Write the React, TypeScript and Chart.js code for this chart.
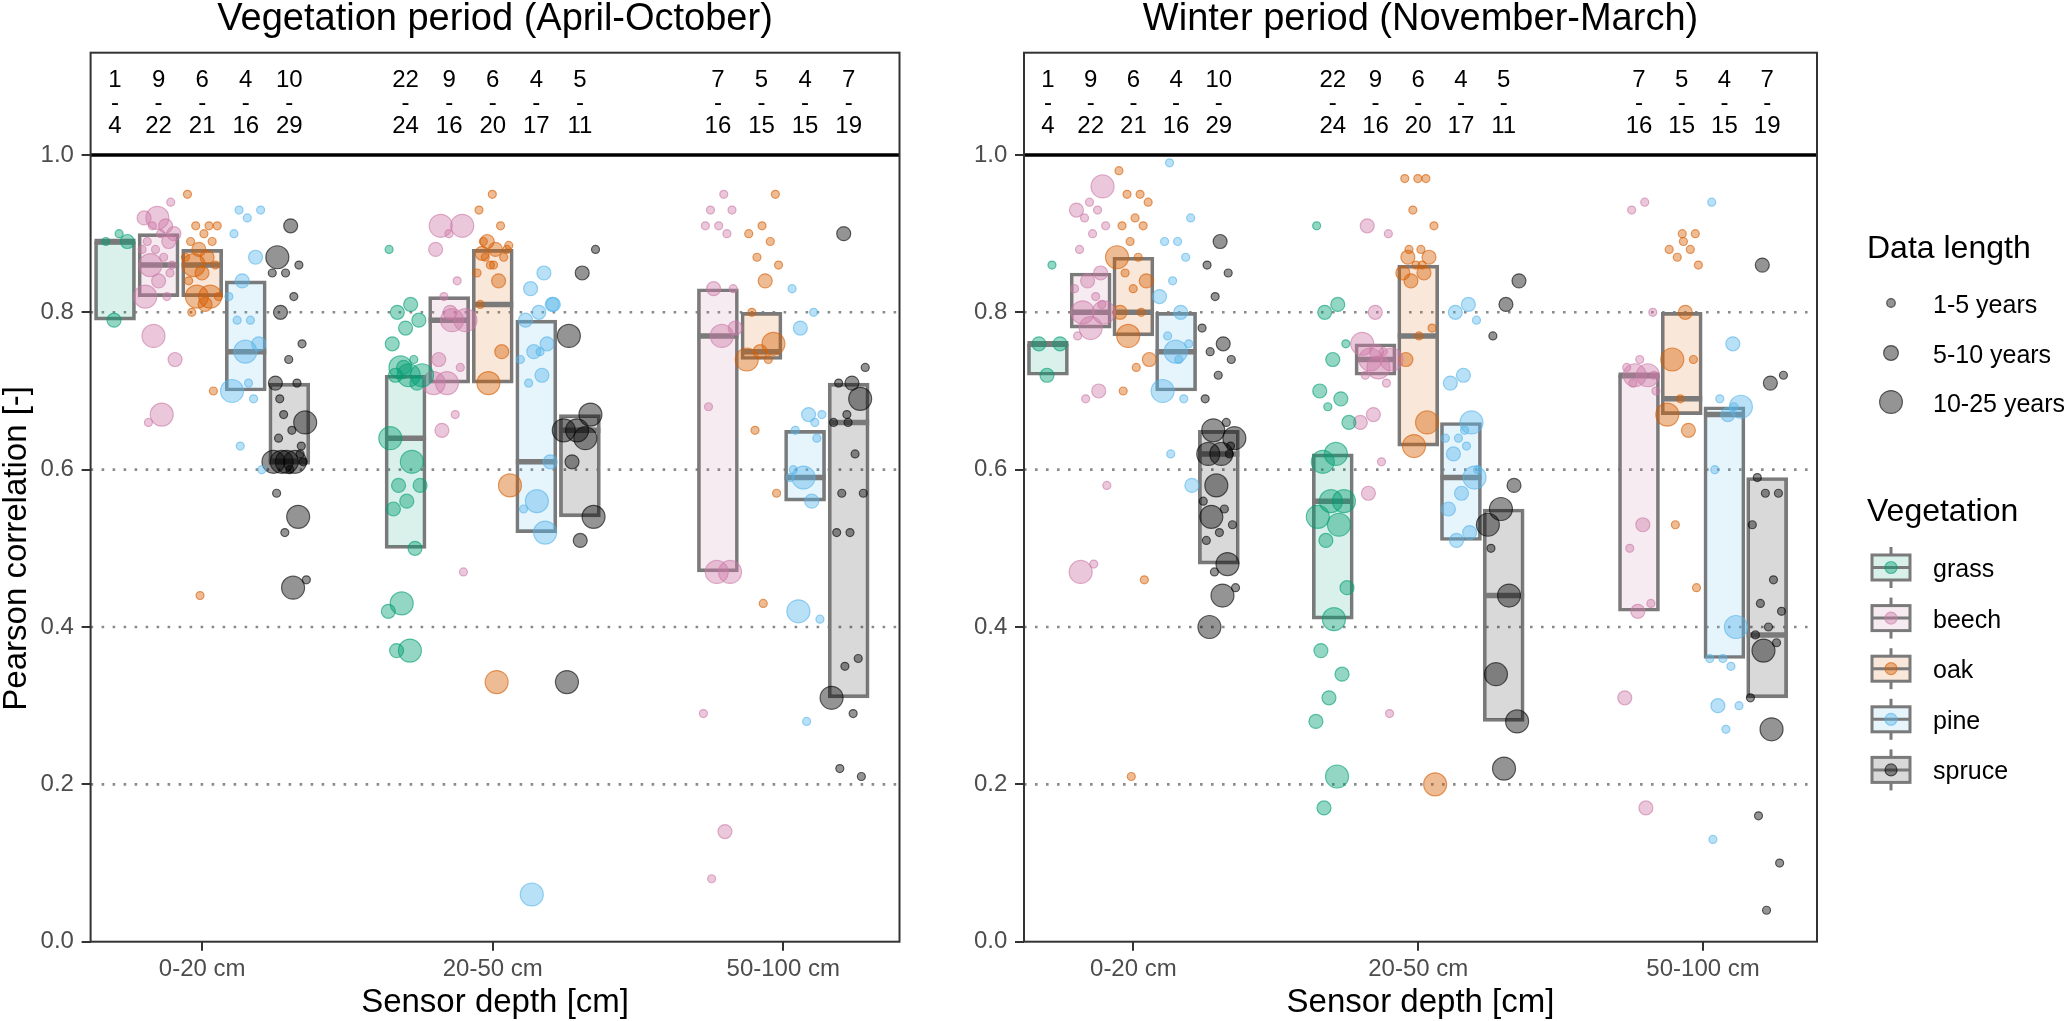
import React, { useEffect, useRef } from "react";
import { Chart, registerables } from "chart.js";
Chart.register(...registerables);

const FONT = '"Liberation Sans", Arial, Helvetica, sans-serif';

// ---------------- data ----------------
const depths = ["0-20 cm", "20-50 cm", "50-100 cm"];
const vegetation = ["grass", "beech", "oak", "pine", "spruce"];
const vegColors = ["#009E73", "#CC79A7", "#D55E00", "#56B4E9", "#000000"];
const sizeLabels = ["1-5 years", "5-10 years", "10-25 years"];
const yTicks = [0, 0.2, 0.4, 0.6, 0.8, 1.0];
const panelTitles = ["Vegetation period (April-October)", "Winter period (November-March)"];

// number of sites (top) and sensors (bottom) per depth x vegetation
const nSites = [[1, 9, 6, 4, 10], [22, 9, 6, 4, 5], [null, 7, 5, 4, 7]];
const nSensors = [[4, 22, 21, 16, 29], [24, 16, 20, 17, 11], [null, 16, 15, 15, 19]];

// box statistics [depth][vegetation]
const vegQ1 = [[0.79, 0.82, 0.82, 0.70, 0.61], [0.50, 0.71, 0.71, 0.52, 0.54], [null, 0.47, 0.74, 0.56, 0.31]];
const vegMed = [[0.89, 0.86, 0.86, 0.75, 0.61], [0.64, 0.79, 0.81, 0.61, 0.65], [null, 0.77, 0.75, 0.59, 0.66]];
const vegQ3 = [[0.89, 0.90, 0.88, 0.84, 0.71], [0.72, 0.82, 0.88, 0.79, 0.67], [null, 0.83, 0.80, 0.65, 0.71]];
const winQ1 = [[0.72, 0.78, 0.77, 0.70, 0.48], [0.41, 0.72, 0.63, 0.51, 0.28], [null, 0.42, 0.67, 0.36, 0.31]];
const winMed = [[0.76, 0.80, 0.80, 0.75, 0.62], [0.56, 0.74, 0.77, 0.59, 0.44], [null, 0.72, 0.69, 0.67, 0.39]];
const winQ3 = [[0.76, 0.85, 0.87, 0.80, 0.65], [0.62, 0.76, 0.86, 0.66, 0.55], [null, 0.72, 0.80, 0.68, 0.59]];

// points: [correlation, data length class (1: 1-5, 2: 5-10, 3: 10-25 years)] per depth
const vegGrass = [
  [[.90, 1], [.89, 1], [.89, 2], [.79, 2]],
  [[.88, 1], [.81, 2], [.80, 2], [.79, 2], [.78, 2], [.76, 2], [.74, 1], [.73, 3], [.72, 3], [.72, 3], [.72, 2], [.71, 2], [.73, 2], [.64, 3], [.61, 3], [.58, 2], [.58, 2], [.56, 2], [.55, 2], [.50, 2], [.43, 3], [.42, 2], [.37, 3], [.37, 2]],
  [],
];
const vegBeech = [
  [[.94, 1], [.92, 3], [.92, 2], [.91, 2], [.91, 1], [.90, 2], [.90, 1], [.89, 1], [.89, 2], [.88, 1], [.88, 1], [.87, 1], [.86, 3], [.86, 1], [.84, 2], [.82, 3], [.82, 1], [.77, 3], [.74, 2], [.67, 3], [.66, 1], [.85, 1]],
  [[.91, 3], [.91, 3], [.90, 1], [.88, 2], [.84, 1], [.82, 1], [.79, 3], [.79, 3], [.74, 2], [.73, 1], [.71, 3], [.71, 3], [.67, 1], [.65, 2], [.47, 1], [.80, 2]],
  [[.95, 1], [.93, 1], [.93, 1], [.91, 1], [.91, 1], [.90, 1], [.83, 2], [.78, 2], [.77, 3], [.68, 1], [.47, 3], [.47, 3], [.29, 1], [.14, 2], [.08, 1], [.83, 1]],
];
const vegOak = [
  [[.95, 1], [.91, 1], [.91, 1], [.91, 1], [.90, 1], [.89, 1], [.89, 1], [.88, 2], [.87, 1], [.87, 2], [.86, 3], [.86, 1], [.85, 2], [.84, 1], [.82, 3], [.82, 3], [.82, 1], [.81, 2], [.80, 1], [.70, 1], [.44, 1]],
  [[.95, 1], [.93, 1], [.91, 1], [.89, 2], [.885, 1], [.88, 2], [.875, 2], [.87, 1], [.86, 1], [.85, 1], [.84, 2], [.87, 1], [.88, 1], [.86, 1], [.81, 1], [.75, 2], [.71, 3], [.58, 3], [.33, 3], [.89, 1]],
  [[.95, 1], [.91, 1], [.90, 1], [.89, 1], [.87, 1], [.86, 1], [.84, 2], [.80, 1], [.76, 3], [.75, 2], [.74, 3], [.74, 1], [.65, 1], [.57, 1], [.43, 1]],
];
const vegPine = [
  [[.93, 1], [.93, 1], [.92, 1], [.90, 1], [.87, 2], [.84, 2], [.82, 1], [.79, 1], [.79, 1], [.76, 2], [.75, 3], [.70, 3], [.69, 1], [.63, 1], [.60, 1], [.71, 1]],
  [[.85, 2], [.83, 2], [.81, 2], [.80, 2], [.79, 2], [.76, 2], [.75, 2], [.74, 1], [.72, 2], [.71, 1], [.61, 2], [.56, 3], [.55, 1], [.52, 3], [.06, 3], [.81, 2], [.75, 1]],
  [[.83, 1], [.80, 1], [.78, 2], [.67, 1], [.67, 2], [.65, 1], [.64, 1], [.59, 3], [.59, 1], [.56, 2], [.42, 3], [.41, 1], [.28, 1], [.60, 1], [.66, 1]],
];
const vegSpruce = [
  [[.91, 2], [.87, 3], [.86, 1], [.85, 1], [.85, 1], [.82, 1], [.80, 2], [.76, 1], [.74, 1], [.71, 2], [.71, 1], [.67, 1], [.66, 3], [.65, 1], [.64, 1], [.62, 1], [.61, 3], [.61, 3], [.61, 3], [.61, 3], [.61, 1], [.60, 1], [.57, 1], [.54, 3], [.52, 1], [.46, 1], [.45, 3], [.69, 1], [.63, 1]],
  [[.88, 1], [.85, 2], [.77, 3], [.67, 3], [.65, 3], [.65, 3], [.64, 3], [.61, 2], [.54, 3], [.51, 2], [.33, 3]],
  [[.90, 2], [.73, 1], [.71, 2], [.71, 1], [.69, 3], [.67, 1], [.66, 1], [.62, 1], [.57, 1], [.57, 1], [.52, 1], [.52, 1], [.36, 1], [.35, 1], [.31, 3], [.29, 1], [.22, 1], [.21, 1], [.66, 1]],
];

const winGrass = [
  [[.86, 1], [.76, 2], [.76, 2], [.72, 2]],
  [[.91, 1], [.81, 2], [.80, 2], [.76, 1], [.74, 2], [.70, 2], [.69, 2], [.68, 1], [.66, 2], [.62, 3], [.61, 3], [.56, 3], [.56, 3], [.54, 3], [.53, 3], [.51, 2], [.45, 2], [.41, 3], [.37, 2], [.34, 2], [.31, 2], [.28, 2], [.21, 3], [.17, 2]],
  [],
];
const winBeech = [
  [[.96, 3], [.94, 1], [.93, 2], [.93, 1], [.92, 1], [.91, 1], [.90, 1], [.88, 1], [.85, 2], [.84, 2], [.83, 1], [.82, 1], [.80, 3], [.80, 3], [.78, 3], [.77, 1], [.70, 2], [.69, 1], [.58, 1], [.48, 1], [.47, 3], [.81, 1]],
  [[.91, 2], [.90, 1], [.80, 2], [.76, 3], [.75, 1], [.74, 3], [.74, 3], [.73, 3], [.72, 1], [.71, 1], [.67, 2], [.66, 2], [.61, 1], [.57, 2], [.29, 1], [.75, 2]],
  [[.94, 1], [.93, 1], [.80, 1], [.74, 1], [.73, 1], [.72, 3], [.72, 3], [.70, 1], [.53, 2], [.50, 1], [.43, 1], [.42, 2], [.31, 2], [.17, 2], [.71, 1], [.72, 1]],
];
const winOak = [
  [[.98, 1], [.95, 1], [.95, 1], [.94, 1], [.92, 1], [.91, 1], [.91, 1], [.89, 1], [.87, 3], [.87, 1], [.85, 1], [.84, 2], [.83, 1], [.80, 2], [.80, 1], [.77, 3], [.74, 2], [.73, 1], [.70, 1], [.46, 1], [.21, 1]],
  [[.97, 1], [.97, 1], [.97, 1], [.93, 1], [.91, 1], [.88, 1], [.87, 2], [.87, 2], [.86, 1], [.85, 2], [.85, 2], [.84, 2], [.78, 1], [.77, 1], [.74, 2], [.66, 3], [.63, 3], [.20, 3], [.86, 1], [.88, 1]],
  [[.90, 1], [.90, 1], [.88, 1], [.88, 1], [.87, 1], [.86, 1], [.80, 2], [.74, 3], [.74, 1], [.69, 1], [.67, 3], [.65, 2], [.53, 1], [.45, 1], [.89, 1]],
];
const winPine = [
  [[.99, 1], [.92, 1], [.89, 1], [.89, 1], [.87, 1], [.84, 1], [.82, 2], [.80, 2], [.77, 1], [.76, 1], [.75, 3], [.70, 3], [.69, 1], [.62, 1], [.58, 2], [.74, 1]],
  [[.81, 2], [.80, 2], [.79, 1], [.72, 2], [.71, 2], [.66, 3], [.64, 1], [.64, 1], [.63, 1], [.62, 2], [.59, 3], [.57, 2], [.55, 2], [.52, 2], [.51, 2], [.60, 1], [.65, 1]],
  [[.94, 1], [.76, 2], [.69, 1], [.68, 3], [.67, 2], [.60, 1], [.40, 3], [.36, 1], [.36, 1], [.35, 1], [.30, 2], [.30, 1], [.27, 1], [.13, 1], [.68, 1]],
];
const winSpruce = [
  [[.89, 2], [.86, 1], [.85, 1], [.82, 1], [.78, 1], [.76, 2], [.75, 1], [.74, 1], [.72, 1], [.69, 1], [.66, 1], [.65, 3], [.64, 3], [.62, 3], [.62, 3], [.62, 1], [.58, 3], [.56, 1], [.55, 1], [.54, 3], [.53, 1], [.52, 1], [.51, 1], [.48, 3], [.47, 1], [.45, 1], [.44, 3], [.40, 3], [.63, 1]],
  [[.84, 2], [.81, 2], [.77, 1], [.58, 2], [.55, 3], [.53, 3], [.44, 3], [.34, 3], [.28, 3], [.22, 3], [.50, 1]],
  [[.86, 2], [.72, 1], [.71, 2], [.59, 1], [.57, 1], [.57, 1], [.53, 1], [.46, 1], [.43, 1], [.42, 1], [.40, 1], [.39, 1], [.38, 1], [.37, 3], [.31, 1], [.27, 3], [.16, 1], [.10, 1], [.04, 1]],
];

// ---------------- styling ----------------
const BOX_GREY = "#7A7A7A";
const POINT_R = [0, 4, 7, 11.5];
const LEGEND_R = [4.3, 7.4, 11.4];
const DODGE = 0.15;

const panels = [
  { title: panelTitles[0], q1: vegQ1, med: vegMed, q3: vegQ3, pts: [vegGrass, vegBeech, vegOak, vegPine, vegSpruce], yTitle: true, axisW: 90.6 },
  { title: panelTitles[1], q1: winQ1, med: winMed, q3: winQ3, pts: [winGrass, winBeech, winOak, winPine, winSpruce], yTitle: false, axisW: 64 },
];

function rgba(hex: string, a: number) {
  const n = parseInt(hex.slice(1), 16);
  return `rgba(${(n >> 16) & 255},${(n >> 8) & 255},${n & 255},${a})`;
}

function xPos(d: number, v: number) {
  const present = vegetation.map((_, k) => (nSensors[d][k] != null ? k : -1)).filter((k) => k >= 0);
  const slot = present.indexOf(v);
  return d + (slot - (present.length - 1) / 2) * DODGE;
}

// deterministic horizontal spread of points inside a box (position only, not values)
function jitter(i: number, v: number, d: number) {
  const f = ((i + 1) * 0.6180339887 + v * 0.23 + d * 0.41) % 1;
  return (f - 0.5) * 0.12;
}

function makeConfig(p: number): any {
  const panel = panels[p];
  const datasets: any[] = [];
  vegetation.forEach((_, v) => {
    const col = vegColors[v];
    const boxes: any[] = [];
    const meds: any[] = [];
    const pts: any[] = [];
    for (let d = 0; d < depths.length; d++) {
      if (panel.q1[d][v] == null) continue;
      const x = xPos(d, v);
      boxes.push({ x, y: [panel.q1[d][v], panel.q3[d][v]] });
      meds.push({ x, y: panel.med[d][v] });
      panel.pts[v][d].forEach((pt: number[], i: number) => pts.push({ x: x + jitter(i, v, d), y: pt[0], s: pt[1] }));
    }
    datasets.push({
      type: "bar", data: boxes, backgroundColor: rgba(col, 0.15), borderColor: BOX_GREY,
      borderWidth: 3, borderSkipped: false, barThickness: 41, grouped: false, order: 3,
    });
    datasets.push({
      type: "scatter", data: meds, pointStyle: "line", pointRadius: 20.5, pointBorderWidth: 5.5,
      pointBorderColor: BOX_GREY, pointBackgroundColor: BOX_GREY, order: 2,
    });
    datasets.push({
      type: "scatter", data: pts,
      pointRadius: (c: any) => POINT_R[(c.raw && c.raw.s) || 1],
      pointBackgroundColor: rgba(col, 0.42), pointBorderColor: rgba(col, 0.6), pointBorderWidth: 1.2, order: 1,
    });
  });

  const tickFont = { family: FONT, size: 24 };
  const decor = {
    id: "decor" + p,
    beforeDatasetsDraw(chart: any) {
      const { ctx, chartArea: a, scales } = chart;
      const y = scales.y;
      ctx.save();
      ctx.strokeStyle = "#8A8A8A";
      ctx.lineWidth = 2.6;
      ctx.setLineDash([2.6, 8.4]);
      [0.2, 0.4, 0.6, 0.8].forEach((val) => {
        const py = y.getPixelForValue(val);
        ctx.beginPath(); ctx.moveTo(a.left, py); ctx.lineTo(a.right, py); ctx.stroke();
      });
      ctx.setLineDash([]);
      ctx.strokeStyle = "#000";
      ctx.lineWidth = 3.4;
      const p1 = y.getPixelForValue(1);
      ctx.beginPath(); ctx.moveTo(a.left, p1); ctx.lineTo(a.right, p1); ctx.stroke();
      ctx.restore();
    },
    afterDraw(chart: any) {
      const { ctx, chartArea: a, scales } = chart;
      const x = scales.x;
      const y = scales.y;
      ctx.save();
      ctx.strokeStyle = "#333333";
      ctx.lineWidth = 2;
      ctx.strokeRect(a.left, a.top, a.right - a.left, a.bottom - a.top);
      ctx.fillStyle = "#000";
      ctx.textAlign = "center";
      ctx.textBaseline = "alphabetic";
      ctx.font = `24px ${FONT}`;
      for (let d = 0; d < depths.length; d++) {
        for (let v = 0; v < vegetation.length; v++) {
          if (nSites[d][v] == null) continue;
          const px = x.getPixelForValue(xPos(d, v));
          ctx.fillText(String(nSites[d][v]), px, a.top + 34.5);
          ctx.fillText("-", px, a.top + 57.5);
          ctx.fillText(String(nSensors[d][v]), px, a.top + 80.5);
        }
      }
      ctx.font = `38px ${FONT}`;
      ctx.fillText(panel.title, (a.left + a.right) / 2, 30);
      if (panel.yTitle) {
        ctx.font = `33px ${FONT}`;
        ctx.translate(16.5, y.getPixelForValue(0.5));
        ctx.rotate(-Math.PI / 2);
        ctx.textBaseline = "middle";
        ctx.fillText("Pearson correlation [-]", 0, 0);
      }
      ctx.restore();
    },
  };

  return {
    type: "bar",
    data: { datasets },
    plugins: [decor],
    options: {
      animation: false,
      responsive: false,
      events: [],
      layout: { padding: { left: 0, right: p === 0 ? 60.5 : 10, top: 52.7, bottom: 0 } },
      plugins: { legend: { display: false }, tooltip: { enabled: false }, title: { display: false } },
      scales: {
        x: {
          type: "linear", min: -0.384, max: 2.4, offset: false,
          afterBuildTicks: (s: any) => { s.ticks = depths.map((_, i) => ({ value: i })); },
          afterFit: (s: any) => { s.height = 79.3; },
          ticks: {
            callback: (val: any) => depths[val] ?? "", font: tickFont, color: "#4D4D4D",
            padding: 4, maxRotation: 0, autoSkip: false,
          },
          grid: { offset: false, drawOnChartArea: false, drawTicks: true, tickLength: 9, color: "#333333", lineWidth: 2 },
          border: { display: false },
          title: {
            display: true, text: "Sensor depth [cm]", color: "#000",
            font: { family: FONT, size: 33, lineHeight: 1 }, padding: { top: 0, bottom: 1.5 },
          },
        },
        y: {
          type: "linear", min: 0, max: 1.13,
          afterBuildTicks: (s: any) => { s.ticks = yTicks.map((value) => ({ value })); },
          afterFit: (s: any) => { s.width = panel.axisW; },
          ticks: { callback: (val: any) => Number(val).toFixed(1), font: tickFont, color: "#4D4D4D", padding: 7.7 },
          grid: { drawOnChartArea: false, drawTicks: true, tickLength: 9, color: "#333333", lineWidth: 2 },
          border: { display: false },
          title: { display: false },
        },
      },
    },
  };
}

export default function App() {
  const leftRef = useRef<HTMLCanvasElement>(null);
  const rightRef = useRef<HTMLCanvasElement>(null);

  useEffect(() => {
    document.body.style.margin = "0";
    const c1 = new Chart(leftRef.current as HTMLCanvasElement, makeConfig(0));
    const c2 = new Chart(rightRef.current as HTMLCanvasElement, makeConfig(1));
    return () => {
      c1.destroy();
      c2.destroy();
    };
  }, []);

  const sizeRowY = [303, 353, 402];
  const vegRowY = vegetation.map((_, i) => 567.5 + 50.6 * i);

  return (
    <div style={{ position: "relative", width: 2067, height: 1021, background: "#fff", overflow: "hidden" }}>
      <canvas ref={leftRef} width={960} height={1021}
        style={{ position: "absolute", left: 0, top: 0, width: 960, height: 1021 }} />
      <canvas ref={rightRef} width={883} height={1021}
        style={{ position: "absolute", left: 960, top: 0, width: 883, height: 1021 }} />
      <svg width={2067} height={1021} style={{ position: "absolute", left: 0, top: 0, pointerEvents: "none" }}
        fontFamily={FONT}>
        <text x={1867} y={257.5} fontSize={32} fill="#000">Data length</text>
        {sizeLabels.map((lab, i) => (
          <g key={lab}>
            <circle cx={1891} cy={sizeRowY[i]} r={LEGEND_R[i]} fill="rgba(0,0,0,0.42)" stroke="rgba(0,0,0,0.6)" strokeWidth={1.2} />
            <text x={1933} y={sizeRowY[i] + 9.5} fontSize={25} fill="#000">{lab}</text>
          </g>
        ))}
        <text x={1867} y={521} fontSize={32} fill="#000">Vegetation</text>
        {vegetation.map((veg, i) => {
          const cy = vegRowY[i];
          const col = vegColors[i];
          return (
            <g key={veg}>
              <line x1={1891} x2={1891} y1={cy - 20.5} y2={cy - 12.5} stroke={BOX_GREY} strokeWidth={3} />
              <line x1={1891} x2={1891} y1={cy + 12.5} y2={cy + 20.5} stroke={BOX_GREY} strokeWidth={3} />
              <rect x={1872} y={cy - 12.5} width={38} height={25} fill={rgba(col, 0.15)} stroke={BOX_GREY} strokeWidth={3} />
              <line x1={1872} x2={1910} y1={cy} y2={cy} stroke={BOX_GREY} strokeWidth={3} />
              <circle cx={1891} cy={cy} r={6} fill={rgba(col, 0.42)} stroke={rgba(col, 0.6)} strokeWidth={1.2} />
              <text x={1933} y={cy + 9.5} fontSize={25} fill="#000">{veg}</text>
            </g>
          );
        })}
      </svg>
    </div>
  );
}
